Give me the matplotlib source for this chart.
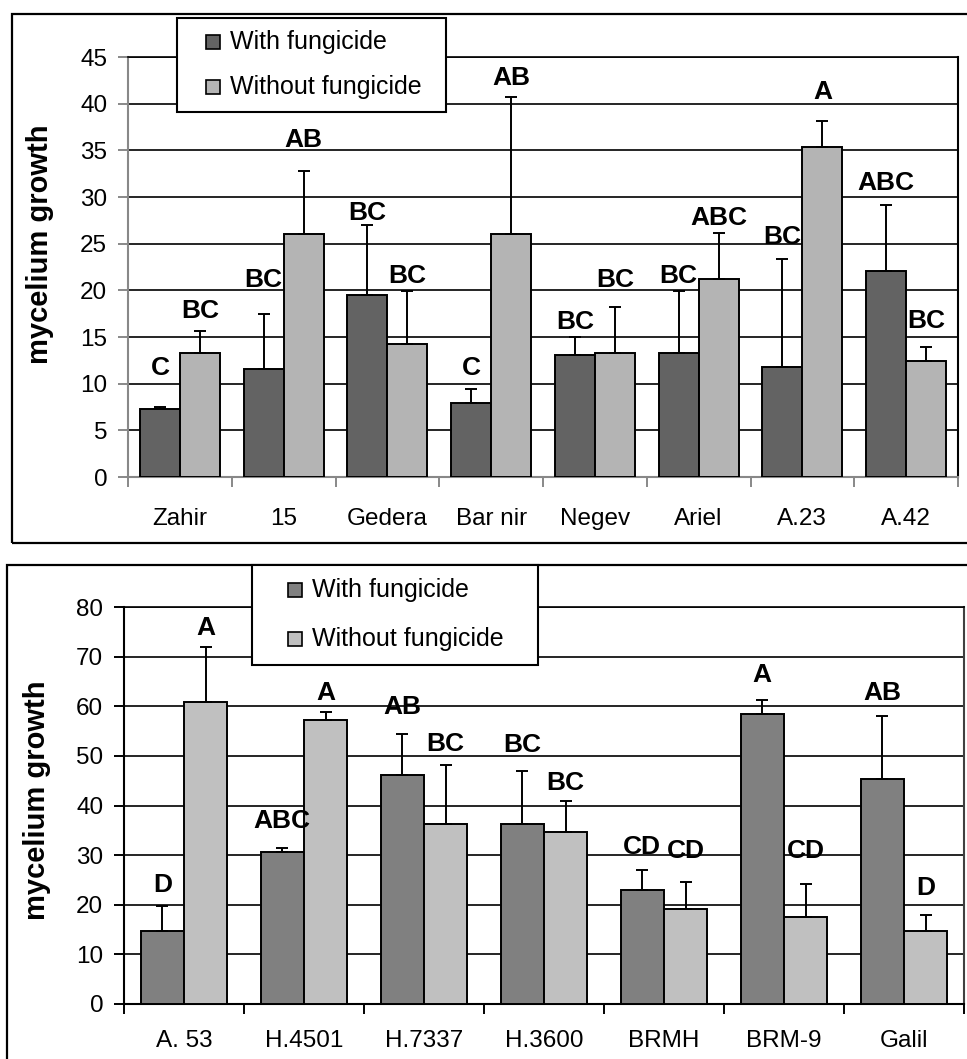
import numpy as np
import matplotlib
matplotlib.use("Agg")
import matplotlib.pyplot as plt
from matplotlib.patches import Rectangle

plt.rcParams['font.family'] = ['Liberation Sans', 'DejaVu Sans']

W, H = 967, 1059

top_names = ["Zahir", "15", "Gedera", "Bar nir", "Negev", "Ariel", "A.23", "A.42"]
top_with = [7.3, 11.55, 19.55, 7.95, 13.1, 13.3, 11.8, 22.1]
top_with_err = [0.2, 5.95, 7.45, 1.45, 1.85, 6.6, 11.55, 7.05]
top_without = [13.3, 26.0, 14.3, 26.0, 13.3, 21.2, 35.35, 12.4]
top_without_err = [2.35, 6.75, 5.6, 14.7, 4.9, 4.95, 2.8, 1.5]
top_with_letters = ["C", "BC", "BC", "C", "BC", "BC", "BC", "ABC"]
top_without_letters = ["BC", "AB", "BC", "AB", "BC", "ABC", "A", "BC"]
top_with_lab_y = [11.65, 21.1, 28.3, 11.65, 16.6, 21.5, 25.75, 31.5]
top_without_lab_y = [17.8, 36.1, 21.5, 42.8, 21.1, 27.7, 41.2, 16.75]

bot_names = ["A. 53", "H.4501", "H.7337", "H.3600", "BRMH", "BRM-9", "Galil"]
bot_with = [14.7, 30.6, 46.2, 36.2, 23.0, 58.4, 45.3]
bot_with_err = [5.05, 0.8, 8.3, 10.8, 4.1, 2.9, 12.7]
bot_without = [60.8, 57.2, 36.2, 34.6, 19.1, 17.5, 14.7]
bot_without_err = [11.2, 1.6, 12.0, 6.3, 5.5, 6.7, 3.2]
bot_with_letters = ["D", "ABC", "AB", "BC", "CD", "A", "AB"]
bot_without_letters = ["A", "A", "BC", "BC", "CD", "CD", "D"]
bot_with_lab_y = [24.0, 36.9, 59.8, 52.1, 31.7, 66.3, 62.7]
bot_without_lab_y = [75.7, 62.6, 52.4, 44.5, 30.9, 30.9, 23.3]

series = ["With fungicide", "Without fungicide"]
narrow = ['Liberation Sans Narrow', 'Liberation Sans', 'DejaVu Sans']


def px_axes(fig, left, top, right, bottom):
    return fig.add_axes([left / W, 1 - bottom / H, (right - left) / W, (bottom - top) / H])


def draw_panel(ax, names, v1, e1, v2, e2, l1, l2, ly1, ly2, ymax, ystep, c1, c2, width, axcol, xpad):
    n = len(names)
    x = np.arange(n)
    ax.bar(x - width / 2, v1, width, color=c1, edgecolor='black', linewidth=1.4, zorder=3)
    ax.bar(x + width / 2, v2, width, color=c2, edgecolor='black', linewidth=1.4, zorder=3)
    ax.errorbar(x - width / 2, v1, yerr=[np.zeros(n), e1], fmt='none', ecolor='black',
                elinewidth=1.4, capsize=4, capthick=1.4, zorder=4)
    ax.errorbar(x + width / 2, v2, yerr=[np.zeros(n), e2], fmt='none', ecolor='black',
                elinewidth=1.4, capsize=4, capthick=1.4, zorder=4)
    for i in range(n):
        ax.text(x[i] - width / 2, ly1[i], l1[i], ha='center', va='center', fontsize=19,
                fontweight='bold', family=narrow, zorder=5)
        ax.text(x[i] + width / 2, ly2[i], l2[i], ha='center', va='center', fontsize=19,
                fontweight='bold', family=narrow, zorder=5)
    ax.set_xlim(-0.5, n - 0.5)
    ax.set_ylim(0, ymax)
    ax.set_yticks(np.arange(0, ymax + 0.1, ystep))
    ax.set_xticks(np.arange(n + 1) - 0.5)
    ax.set_xticklabels([])
    ax.set_xticks(x, minor=True)
    ax.set_xticklabels(names, minor=True)
    ax.tick_params(axis='x', which='minor', length=0, pad=xpad, labelsize=17.5)
    ax.tick_params(axis='x', which='major', length=7, width=1.4, color=axcol, direction='out')
    ax.tick_params(axis='y', length=7, width=1.4, color=axcol, direction='out', pad=8, labelsize=17.5)
    ax.yaxis.grid(True, color='black', linewidth=1.2)
    ax.set_axisbelow(True)
    for s in ['left', 'bottom']:
        ax.spines[s].set_color(axcol)
        ax.spines[s].set_linewidth(1.5)
    ax.spines['top'].set_color('black')
    ax.spines['top'].set_linewidth(1.2)
    ax.spines['right'].set_linewidth(1.5)


def draw_legend(fig, left, top, right, bottom, sq_x, ys, colors):
    fig.add_artist(Rectangle((left / W, 1 - bottom / H), (right - left) / W, (bottom - top) / H,
                             transform=fig.transFigure, facecolor='white', edgecolor='black',
                             linewidth=1.5, zorder=10))
    for lab, yy, col in zip(series, ys, colors):
        fig.add_artist(Rectangle((sq_x / W, 1 - (yy + 7) / H), 14 / W, 14 / H,
                                 transform=fig.transFigure, facecolor=col, edgecolor='black',
                                 linewidth=1.2, zorder=11))
        fig.text((sq_x + 24) / W, 1 - yy / H, lab, ha='left', va='center', fontsize=18, zorder=12)


fig = plt.figure(figsize=(W / 100, H / 100), dpi=100)

# outer frames
fig.add_artist(Rectangle((12 / W, 1 - 543 / H), 1.1, (543 - 14) / H, transform=fig.transFigure,
                         fill=False, edgecolor='black', linewidth=1.6))
fig.add_artist(Rectangle((7 / W, -0.1), 1.1, 0.1 + 1 - 565 / H, transform=fig.transFigure,
                         fill=False, edgecolor='black', linewidth=1.6))

ax1 = px_axes(fig, 128, 57, 958, 477)
draw_panel(ax1, top_names, top_with, top_with_err, top_without, top_without_err,
           top_with_letters, top_without_letters, top_with_lab_y, top_without_lab_y,
           45, 5, '#636363', '#b4b4b4', 0.385, '#888888', 22)
ax1.spines['right'].set_color('black')

ax2 = px_axes(fig, 124, 607, 964, 1004)
draw_panel(ax2, bot_names, bot_with, bot_with_err, bot_without, bot_without_err,
           bot_with_letters, bot_without_letters, bot_with_lab_y, bot_without_lab_y,
           80, 10, '#808080', '#c0c0c0', 0.361, 'black', 19)
ax2.spines['right'].set_color('#404040')

draw_legend(fig, 177, 18, 446, 112, 206, [42, 87], ['#636363', '#b4b4b4'])
draw_legend(fig, 252, 565, 538, 665, 288, [590, 639], ['#808080', '#c0c0c0'])

fig.text(40 / W, 1 - 244 / H, "mycelium growth", rotation=90, ha='center', va='center',
         fontsize=21, fontweight='bold')
fig.text(37 / W, 1 - 800 / H, "mycelium growth", rotation=90, ha='center', va='center',
         fontsize=21, fontweight='bold')

fig.savefig("out.png", dpi=100)
